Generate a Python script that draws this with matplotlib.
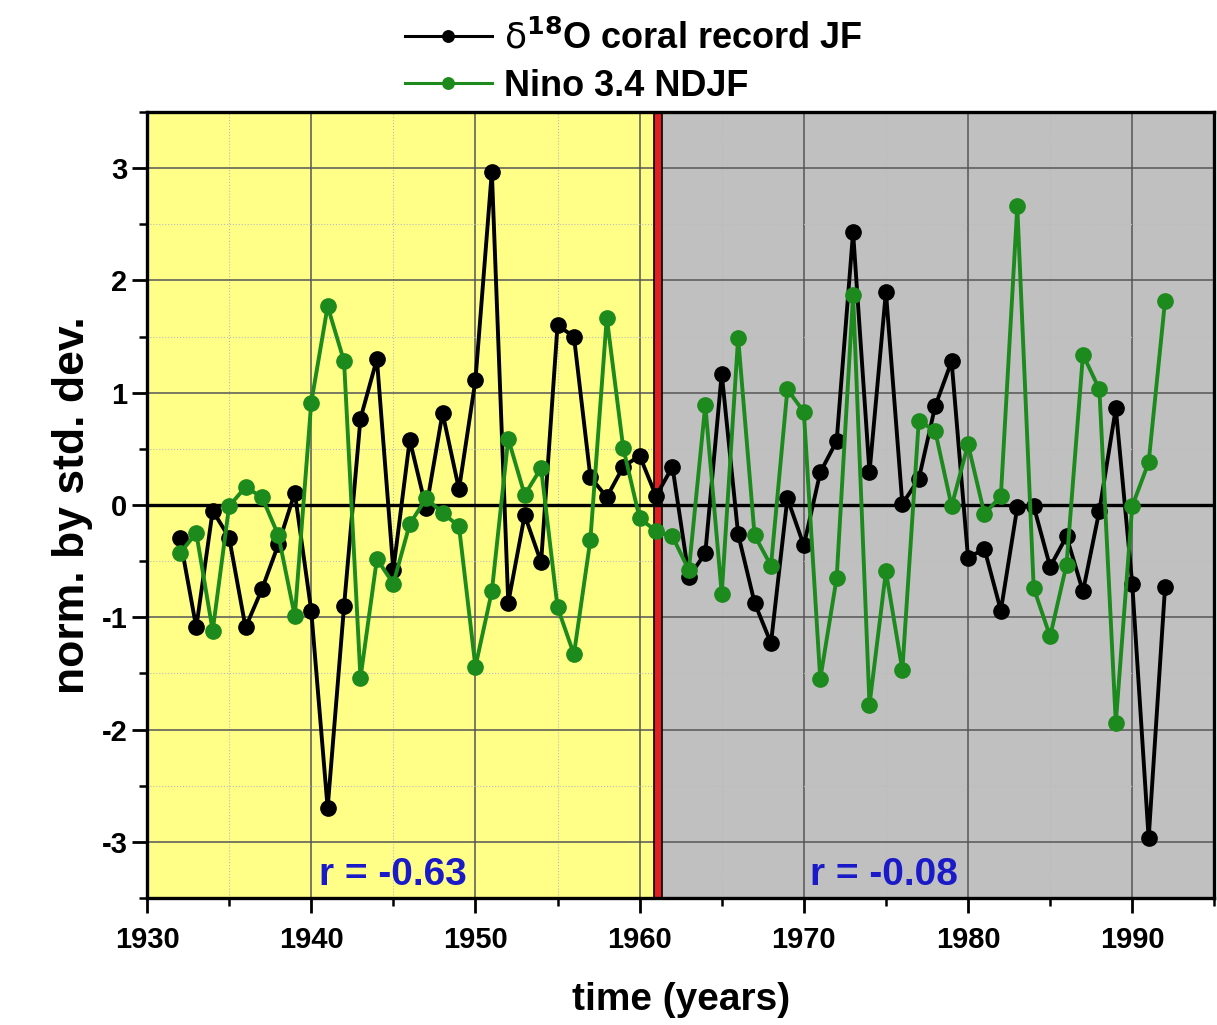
import matplotlib
matplotlib.use('Agg')
import matplotlib.pyplot as plt
from matplotlib.ticker import MultipleLocator

plt.rcParams['axes.unicode_minus'] = False

# данные
years = list(range(1932, 1993))
coral = [-0.29, -1.09, -0.05, -0.29, -1.09, -0.75, -0.35, 0.11, -0.94, -2.70,
         -0.90, 0.77, 1.30, -0.58, 0.58, -0.03, 0.82, 0.14, 1.11, 2.97,
         -0.87, -0.09, -0.51, 1.60, 1.50, 0.25, 0.07, 0.34, 0.44, 0.08,
         0.34, -0.64, -0.43, 1.17, -0.26, -0.87, -1.23, 0.06, -0.36, 0.29,
         0.57, 2.43, 0.29, 1.90, 0.01, 0.23, 0.88, 1.28, -0.47, -0.39,
         -0.94, -0.02, -0.01, -0.55, -0.28, -0.77, -0.05, 0.86, -0.70, -2.97,
         -0.73]
nino = [-0.43, -0.25, -1.12, -0.01, 0.16, 0.07, -0.27, -0.99, 0.91, 1.77,
        1.28, -1.54, -0.48, -0.70, -0.17, 0.06, -0.07, -0.19, -1.44, -0.77,
        0.59, 0.09, 0.33, -0.91, -1.33, -0.31, 1.67, 0.51, -0.12, -0.23,
        -0.28, -0.58, 0.89, -0.79, 1.49, -0.27, -0.54, 1.03, 0.83, -1.55,
        -0.65, 1.87, -1.78, -0.59, -1.47, 0.75, 0.66, -0.01, 0.54, -0.08,
        0.08, 2.66, -0.74, -1.17, -0.53, 1.34, 1.03, -1.94, -0.01, 0.38,
        1.82]
periods = [(1930, 1960.85), (1961.35, 1995)]
period_colors = ['#ffff88', '#c0c0c0']
r_values = ['r = -0.63', 'r = -0.08']
r_pos = [1940.45, 1970.4]

green = '#1c8a1c'
bold = ['Liberation Sans', 'DejaVu Sans']

fig = plt.figure(figsize=(12.17, 10.25), dpi=100)
ax = fig.add_axes([0.1208, 0.1239, 0.877, 0.7668])

for (a, b), c in zip(periods, period_colors):
    ax.axvspan(a, b, color=c, zorder=0)
ax.axvspan(1960.85, 1961.35, facecolor='#e02020', edgecolor='black', lw=1.2, zorder=0.6)

ax.set_axisbelow(True)
ax.grid(which='major', color='#555555', lw=1.1)
ax.grid(which='minor', color='#bbbbbb', lw=0.8, ls=':')
ax.axhline(0, color='black', lw=2.4, zorder=1.5)

l1, = ax.plot(years, coral, '-o', color='black', lw=2.8, ms=11, zorder=3)
l2, = ax.plot(years, nino, '-o', color=green, lw=2.8, ms=11, mec=green, zorder=3)

for t, x in zip(r_values, r_pos):
    ax.text(x, -3.38, t, color='#1a1ac8', fontsize=28, fontweight='bold',
            family=bold, va='baseline', zorder=4)

ax.set_xlim(1930, 1995)
ax.set_ylim(-3.5, 3.5)
ax.xaxis.set_major_locator(MultipleLocator(10))
ax.xaxis.set_minor_locator(MultipleLocator(5))
ax.yaxis.set_major_locator(MultipleLocator(1))
ax.yaxis.set_minor_locator(MultipleLocator(0.5))
ax.tick_params(which='major', direction='out', length=11, width=2)
ax.tick_params(which='minor', direction='out', length=6, width=1.8)
for s in ax.spines.values():
    s.set_linewidth(2.4)

for lab in ax.get_xticklabels():
    lab.set_family(bold)
    lab.set_fontsize(21)
    lab.set_fontweight('bold')
for lab in ax.get_yticklabels():
    lab.set_family(bold)
    lab.set_fontsize(21)
    lab.set_fontweight('bold')
ax.tick_params(axis='x', pad=9)
ax.tick_params(axis='y', pad=3)

ax.set_xlabel('time (years)', fontsize=28, fontweight='bold', family=bold, labelpad=20)
ax.set_ylabel('norm. by std. dev.', fontsize=32, fontweight='bold', family=bold, labelpad=6)

lg = fig.legend([l1, l2], [r'$\mathrm{\delta}^{\mathbf{18}}$O coral record JF', 'Nino 3.4 NDJF'],
                loc='upper left', bbox_to_anchor=(0.306, 1.012), frameon=False,
                prop={'family': bold, 'weight': 'bold', 'size': 26},
                handlelength=2.4, handletextpad=0.35, labelspacing=0.35,
                markerscale=0.75)
for h in lg.get_lines():
    h.set_linewidth(2.2)

fig.savefig('out.png', dpi=100)
